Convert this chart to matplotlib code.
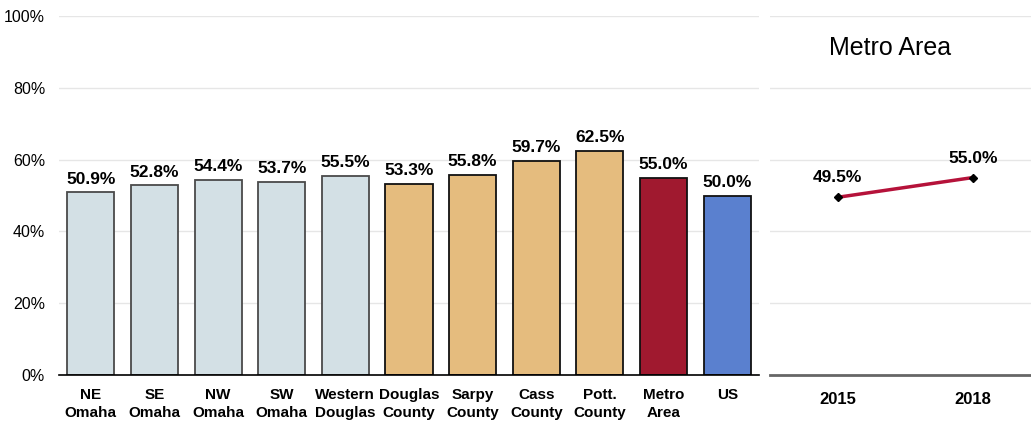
import matplotlib
matplotlib.use('Agg')
import matplotlib.pyplot as plt

plt.rcParams['font.family'] = ['Liberation Sans Narrow', 'Liberation Sans', 'DejaVu Sans']

categories = ['NE\nOmaha', 'SE\nOmaha', 'NW\nOmaha', 'SW\nOmaha', 'Western\nDouglas',
              'Douglas\nCounty', 'Sarpy\nCounty', 'Cass\nCounty', 'Pott.\nCounty',
              'Metro\nArea', 'US']
values = [50.9, 52.8, 54.4, 53.7, 55.5, 53.3, 55.8, 59.7, 62.5, 55.0, 50.0]
bar_colors = ['#D3E0E5'] * 5 + ['#E5BC7E'] * 4 + ['#A0192F', '#5A80CF']
edge_colors = ['#4a4a4a'] * 5 + ['#111111'] * 6

years = ['2015', '2018']
metro_trend = [49.5, 55.0]

fig = plt.figure(figsize=(10.31, 4.28), dpi=100)
ax = fig.add_axes([0.0572, 0.1238, 0.679, 0.8388])
ax2 = fig.add_axes([0.7468, 0.1238, 0.2532, 0.8388])

x = range(len(categories))
ax.bar(x, values, width=0.74, color=bar_colors, edgecolor=edge_colors, linewidth=1.3, zorder=3)
for i, v in enumerate(values):
    ax.text(i, v + 1.6, f'{v:.1f}%', ha='center', va='bottom', fontsize=12.5, fontweight='bold')

ax.set_xlim(-0.5, len(categories) - 0.5)
ax.set_ylim(0, 100)
ax.set_yticks(range(0, 101, 20))
ax.set_yticklabels([f'{t}%' for t in range(0, 101, 20)], fontsize=11.5)
ax.set_xticks(list(x))
ax.set_xticklabels(categories, fontsize=11, fontweight='bold', linespacing=1.4)
ax.tick_params(length=0, pad=9)
ax.tick_params(axis='y', pad=10)
ax.grid(axis='y', color='#E6E6E6', linewidth=1, zorder=0)
for s in ['top', 'right', 'left']:
    ax.spines[s].set_visible(False)
ax.spines['bottom'].set_color('black')
ax.spines['bottom'].set_linewidth(1.2)
ax.spines['bottom'].set_zorder(4)

xs = range(len(years))
ax2.plot(xs, metro_trend, color='#B5123A', linewidth=2.5, zorder=3)
ax2.plot(xs, metro_trend, linestyle='none', marker='D', markersize=4, color='black', zorder=4)
for i, v in enumerate(metro_trend):
    ax2.text(i, v + 3.3, f'{v:.1f}%', ha='center', va='bottom', fontsize=12.5, fontweight='bold')
ax2.set_xlim(-0.5, 1.43)
ax2.set_ylim(0, 100)
ax2.set_yticks(range(0, 101, 20))
ax2.set_yticklabels([])
ax2.set_xticks(list(xs))
ax2.set_xticklabels(years, fontsize=12, fontweight='bold')
ax2.tick_params(length=0, pad=12)
ax2.grid(axis='y', color='#E6E6E6', linewidth=1, zorder=0)
for s in ['top', 'right', 'left']:
    ax2.spines[s].set_visible(False)
ax2.spines['bottom'].set_color('#666666')
ax2.spines['bottom'].set_linewidth(2)
ax2.text(0.46, 0.91, 'Metro Area', transform=ax2.transAxes, ha='center', va='center', fontsize=18)

fig.savefig('out.png', dpi=100)
